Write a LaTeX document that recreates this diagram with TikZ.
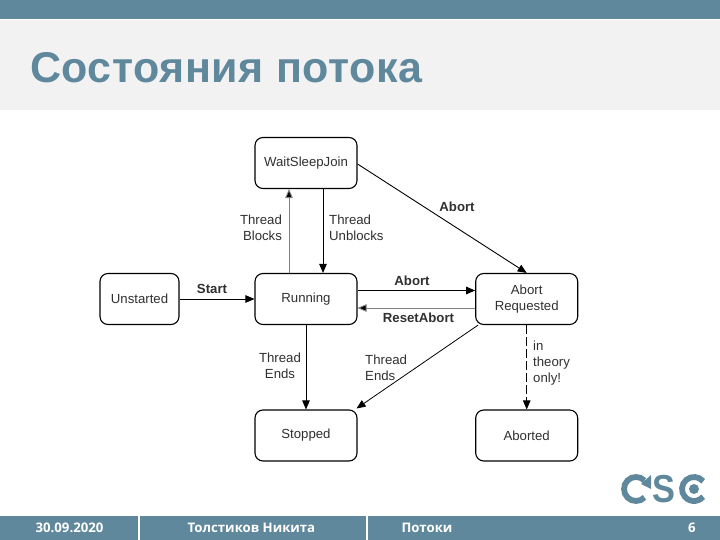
\documentclass[tikz,border=0pt]{standalone}
\usepackage{fontspec}
\setmainfont{Liberation Sans}
\newfontfamily\footfont{Open Sans}
\usetikzlibrary{arrows.meta}
\definecolor{steel}{HTML}{5F889C}
\definecolor{band}{HTML}{F2F2F2}
\definecolor{ink}{HTML}{303030}
\definecolor{graytip}{HTML}{808080}
\tikzset{
  statebox/.style={draw=black,line width=1.1pt,rounded corners=8pt,fill=white,text=ink,
    minimum width=102pt,minimum height=51pt,inner sep=0pt,align=center,
    font=\fontsize{13.2}{15.5}\selectfont},
  lab/.style={inner sep=0pt,text=ink,font=\fontsize{13.2}{16}\selectfont},
  blab/.style={inner sep=0pt,text=ink,font=\fontsize{13.2}{16}\selectfont\bfseries},
  conn/.style={draw=black,line width=0.9pt,-{Triangle[length=9pt,width=7.5pt]}},
  gconn/.style={draw=graytip,line width=0.9pt,-{Triangle[length=9pt,width=7.5pt,fill=black]}},
  foot/.style={inner sep=0pt,text=white,font=\footfont\fontsize{13.2}{15}\selectfont\bfseries},
  logostroke/.style={draw=steel,line width=5.8pt}
}
\begin{document}
\begin{tikzpicture}[x=1pt,y=-1pt]
\useasboundingbox (0,0) rectangle (720,540);
\fill[white] (0,0) rectangle (720,540);
\fill[steel] (0,0) rectangle (720,19);
\fill[band] (0,20) rectangle (720,110.5);
\node[anchor=base west,inner sep=0pt,text=steel,font=\fontsize{43}{46}\selectfont\bfseries\addfontfeature{LetterSpace=1.2}] (title) at (30,82.5) {Состояния потока};

\node[statebox] (wsj) at (306,163) {WaitSleepJoin};
\node[statebox] (run) at (306,299) {Running};
\node[statebox,minimum width=79pt] (uns) at (139.5,299) {Unstarted};
\node[statebox] (req) at (526.7,299) {Abort\\Requested};
\node[statebox] (stop) at (306,435.5) {Stopped};
\node[statebox] (abd) at (526.7,435.5) {Aborted};

\draw[gconn] ([xshift=-17pt]run.north) -- ([xshift=-17pt]wsj.south);
\draw[conn] ([xshift=17pt]wsj.south) -- ([xshift=17pt]run.north);
\draw[conn,line width=0.7pt] (uns.east) -- (run.west);
\draw[conn] ([yshift=8.5pt]run.east) -- ([yshift=8.5pt]req.west);
\draw[gconn] ([yshift=-9pt]req.west) -- ([yshift=-9pt]run.east);
\draw[conn] ([yshift=-1pt]wsj.east) -- (req.north);
\draw[conn] (run.south) -- (stop.north);
\draw[conn,line width=0.8pt] ([xshift=3pt]req.south west) -- ([shift={(-1pt,1pt)}]stop.north east);
\draw[conn,dash pattern=on 9pt off 3pt] (req.south) -- (abd.north);

\node[lab,align=right] (l1) at (261,228) {Thread\\Blocks};
\node[lab,align=left,anchor=west] (l2) at (329,228) {Thread\\Unblocks};
\node[blab] (l3) at (457,207) {Abort};
\node[blab] (l4) at (212,289) {Start};
\node[blab] (l5) at (412,281) {Abort};
\node[blab] (l6) at (418.5,318) {ResetAbort};
\node[lab,align=center] (l7) at (280,366) {Thread\\Ends};
\node[lab,align=left,anchor=west] (l8) at (365,367.5) {Thread\\Ends};
\node[lab,align=left,anchor=west] (l9) at (533,363) {in\\theory\\only!};

\fill[steel] (0,516) rectangle (720,540);
\fill[white] (137.5,516) rectangle (139.5,540);
\fill[white] (366,516) rectangle (368,540);
\node[foot] (f1) at (69.5,527.5) {30.09.2020};
\node[foot] (f2) at (251.5,527.5) {Толстиков Никита};
\node[foot] (f3) at (427,527.5) {Потоки};
\node[foot] (f4) at (692,527.5) {6};

\draw[logostroke] (644.5,480.5) arc[start angle=45,end angle=315,radius=12pt];
\fill[steel] (641,484) -- (651,475) -- (651,489) -- cycle;
\node[inner sep=0pt,text=steel,transform shape,xscale=0.88,font=\fontsize{39}{41}\selectfont\bfseries] (logos) at (664,489) {S};
\draw[logostroke] (703.2,481.3) arc[start angle=40,end angle=320,radius=12pt];
\fill[steel] (694,489) circle[radius=5pt];
\end{tikzpicture}
\end{document}
